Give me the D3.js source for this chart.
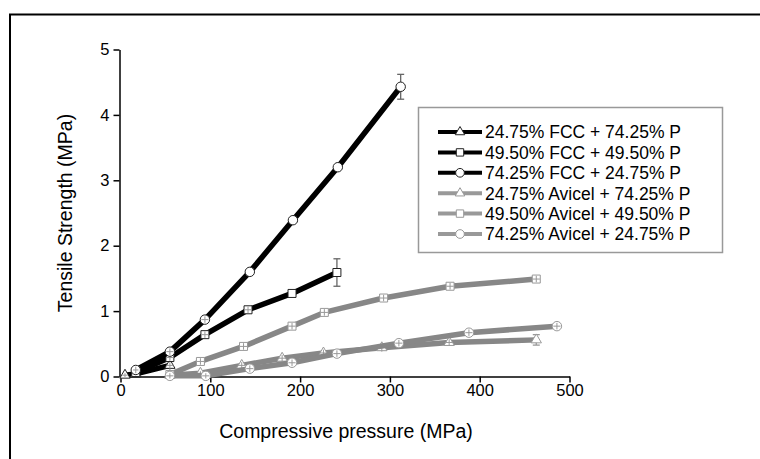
<!DOCTYPE html>
<html>
<head>
<meta charset="utf-8">
<script src="https://cdn.jsdelivr.net/npm/d3@7"></script>
<style>
  body { margin: 0; background: #fff; }
  svg text { font-family: "Liberation Sans", Arial, sans-serif; fill: #000; }
</style>
</head>
<body>
<div id="chart"></div>
<script>
// Tensile strength vs compressive pressure, FCC and Avicel blends

const seriesNames = [
  "24.75% FCC + 74.25% P",
  "49.50% FCC + 49.50% P",
  "74.25% FCC + 24.75% P",
  "24.75% Avicel + 74.25% P",
  "49.50% Avicel + 49.50% P",
  "74.25% Avicel + 24.75% P"
];

// pressure (MPa) per point
const fcc24X = [5, 17, 55];
const fcc49X = [17, 55, 94, 142, 191, 241];
const fcc74X = [17, 55, 94, 144, 192, 242, 312];
const avi24X = [55, 89, 135, 180, 226, 291, 366, 463];
const avi49X = [55, 89, 137, 191, 227, 293, 367, 463];
const avi74X = [55, 95, 144, 191, 241, 310, 388, 486];

// tensile strength (MPa) per point
const fcc24Y = [0.02, 0.04, 0.17];
const fcc49Y = [0.06, 0.29, 0.64, 1.02, 1.27, 1.59];
const fcc74Y = [0.10, 0.38, 0.87, 1.60, 2.39, 3.20, 4.43];
const avi24Y = [0.02, 0.05, 0.17, 0.28, 0.36, 0.44, 0.52, 0.56];
const avi49Y = [0.03, 0.23, 0.46, 0.77, 0.98, 1.20, 1.38, 1.49];
const avi74Y = [0.01, 0.01, 0.12, 0.21, 0.35, 0.51, 0.67, 0.77];

// standard deviations (tensile strength, MPa)
const fcc24E = [0.03, 0.03, 0.05];
const fcc49E = [0.04, 0.05, 0.05, 0.05, 0, 0.21];
const fcc74E = [0.05, 0.05, 0.05, 0, 0, 0, 0.19];
const avi24E = [0.03, 0.03, 0.05, 0.05, 0.05, 0.06, 0.05, 0.08];
const avi49E = [0.04, 0.05, 0.05, 0.05, 0.05, 0.05, 0.05, 0.05];
const avi74E = [0.04, 0.04, 0.05, 0.05, 0.05, 0.05, 0.05, 0.05];

// standard deviations (pressure, MPa)
const fcc24XE = [3, 3, 4];
const fcc49XE = [3, 4, 4, 4, 0, 0];
const fcc74XE = [3, 4, 4, 0, 0, 0, 0];
const avi24XE = [4, 4, 4, 4, 4, 4, 4, 4];
const avi49XE = [4, 4, 4, 4, 4, 4, 4, 4];
const avi74XE = [4, 4, 4, 4, 4, 4, 4, 4];

const xTicks = [0, 100, 200, 300, 400, 500];
const yTicks = [0, 1, 2, 3, 4, 5];

const xTitle = "Compressive pressure (MPa)";
const yTitle = "Tensile Strength (MPa)";

const BLACK = "#000";
const GREY = "#878787";

const series = [
  { name: seriesNames[3], x: avi24X, y: avi24Y, e: avi24E, xe: avi24XE, shape: "triangle", color: GREY },
  { name: seriesNames[4], x: avi49X, y: avi49Y, e: avi49E, xe: avi49XE, shape: "square", color: GREY },
  { name: seriesNames[5], x: avi74X, y: avi74Y, e: avi74E, xe: avi74XE, shape: "circle", color: GREY },
  { name: seriesNames[0], x: fcc24X, y: fcc24Y, e: fcc24E, xe: fcc24XE, shape: "triangle", color: BLACK },
  { name: seriesNames[1], x: fcc49X, y: fcc49Y, e: fcc49E, xe: fcc49XE, shape: "square", color: BLACK },
  { name: seriesNames[2], x: fcc74X, y: fcc74Y, e: fcc74E, xe: fcc74XE, shape: "circle", color: BLACK }
];

const W = 760, H = 459;
const svg = d3.select("#chart").append("svg")
  .attr("width", W).attr("height", H)
  .attr("viewBox", `0 0 ${W} ${H}`);

svg.append("rect").attr("width", W).attr("height", H).attr("fill", "#fff");

// outer frame (runs off the right and bottom edges)
svg.append("rect")
  .attr("x", 10).attr("y", 14.5)
  .attr("width", 800).attr("height", 500)
  .attr("fill", "none").attr("stroke", "#000").attr("stroke-width", 2);

const x = d3.scaleLinear().domain([0, 500]).range([120.5, 569.5]);
const y = d3.scaleLinear().domain([0, 5]).range([376.5, 49.5]);

// axes
const xAxisG = svg.append("g")
  .attr("transform", `translate(0,${y(0)})`)
  .call(d3.axisBottom(x).tickValues(xTicks).tickFormat(d3.format("d"))
    .tickSize(6).tickSizeOuter(0).tickPadding(2));
const yAxisG = svg.append("g")
  .attr("transform", `translate(${x(0) - 1},0)`)
  .call(d3.axisLeft(y).tickValues(yTicks).tickFormat(d3.format("d"))
    .tickSize(6).tickSizeOuter(0).tickPadding(4));

[xAxisG, yAxisG].forEach(g => {
  g.select(".domain").attr("stroke", "#000").attr("stroke-width", 1.5);
  g.selectAll(".tick line").attr("stroke", "#000").attr("stroke-width", 1.5);
  g.selectAll(".tick text")
    .style("font-family", "'Liberation Sans', Arial, sans-serif")
    .style("font-size", "16.5px").attr("fill", "#000");
});

// axis titles
svg.append("text")
  .attr("x", 346).attr("y", 438)
  .attr("text-anchor", "middle")
  .style("font-size", "19.5px")
  .text(xTitle);
svg.append("text")
  .attr("transform", `translate(72,${(y(0) + y(5)) / 2}) rotate(-90)`)
  .attr("text-anchor", "middle")
  .style("font-size", "19.5px")
  .text(yTitle);

const symbolType = { triangle: d3.symbolTriangle, square: d3.symbolSquare, circle: d3.symbolCircle };
const symbolSize = { triangle: 46, square: 64, circle: 70 };

function rows(s) {
  return s.x.map((v, i) => ({ x: v, y: s.y[i], e: s.e[i], xe: s.xe[i] }));
}

const line = d3.line().x(d => x(d.x)).y(d => y(d.y));
const plot = svg.append("g");

series.forEach(s => {
  const g = plot.append("g");
  const pts = rows(s);
  const r = s.shape === "triangle" ? 4 : 4.5;
  const barColor = s.color === BLACK ? "#666" : "#999";

  g.append("path")
    .datum(pts)
    .attr("d", line)
    .attr("fill", "none")
    .attr("stroke", s.color)
    .attr("stroke-width", 5.5)
    .attr("stroke-linejoin", "round");

  // large error bars sit behind the markers
  const big = pts.filter(d => Math.abs(y(d.y + d.e) - y(d.y)) > r);
  const eb = g.selectAll(".eb").data(big).join("g").attr("stroke", barColor).attr("stroke-width", 1.3);
  eb.append("line")
    .attr("x1", d => x(d.x)).attr("x2", d => x(d.x))
    .attr("y1", d => y(d.y + d.e)).attr("y2", d => y(d.y - d.e));
  eb.append("line")
    .attr("x1", d => x(d.x) - 3.5).attr("x2", d => x(d.x) + 3.5)
    .attr("y1", d => y(d.y + d.e)).attr("y2", d => y(d.y + d.e));
  eb.append("line")
    .attr("x1", d => x(d.x) - 3.5).attr("x2", d => x(d.x) + 3.5)
    .attr("y1", d => y(d.y - d.e)).attr("y2", d => y(d.y - d.e));

  g.selectAll(".mk").data(pts).join("path")
    .attr("transform", d => `translate(${x(d.x)},${y(d.y)})`)
    .attr("d", d3.symbol(symbolType[s.shape], symbolSize[s.shape]))
    .attr("fill", "#fff")
    .attr("stroke", s.color === BLACK ? "#222" : "#999")
    .attr("stroke-width", 1);

  // small error bars fall inside the marker and show as a cross
  const small = pts.filter(d => d.e > 0 && Math.abs(y(d.y + d.e) - y(d.y)) <= r);
  const cr = g.selectAll(".cr").data(small).join("g").attr("stroke", "#999").attr("stroke-width", 1);
  cr.append("line")
    .attr("x1", d => x(d.x)).attr("x2", d => x(d.x))
    .attr("y1", d => y(d.y + d.e)).attr("y2", d => y(d.y - d.e));
  cr.filter(d => d.xe > 0).append("line")
    .attr("x1", d => x(d.x - d.xe)).attr("x2", d => x(d.x + d.xe))
    .attr("y1", d => y(d.y)).attr("y2", d => y(d.y));
});

// legend
const legend = svg.append("g");
legend.append("rect")
  .attr("x", 418.5).attr("y", 107.5)
  .attr("width", 304).attr("height", 145)
  .attr("fill", "#fff").attr("stroke", "#999").attr("stroke-width", 1.5);

const legendOrder = [3, 4, 5, 0, 1, 2];
legendOrder.forEach((si, i) => {
  const s = series[si];
  const cy = 132 + i * 20.4;
  const row = legend.append("g").attr("transform", `translate(0,${cy})`);
  row.append("line")
    .attr("x1", 438).attr("x2", 482)
    .attr("stroke", s.color === BLACK ? BLACK : "#999")
    .attr("stroke-width", 4);
  row.append("path")
    .attr("transform", "translate(460,0)")
    .attr("d", d3.symbol(symbolType[s.shape], symbolSize[s.shape] * 0.85))
    .attr("fill", "#fff")
    .attr("stroke", s.color === BLACK ? "#222" : "#999")
    .attr("stroke-width", 1);
  row.append("text")
    .attr("x", 485).attr("dy", "0.36em")
    .style("font-size", "17.5px")
    .text(s.name);
});
</script>
</body>
</html>
